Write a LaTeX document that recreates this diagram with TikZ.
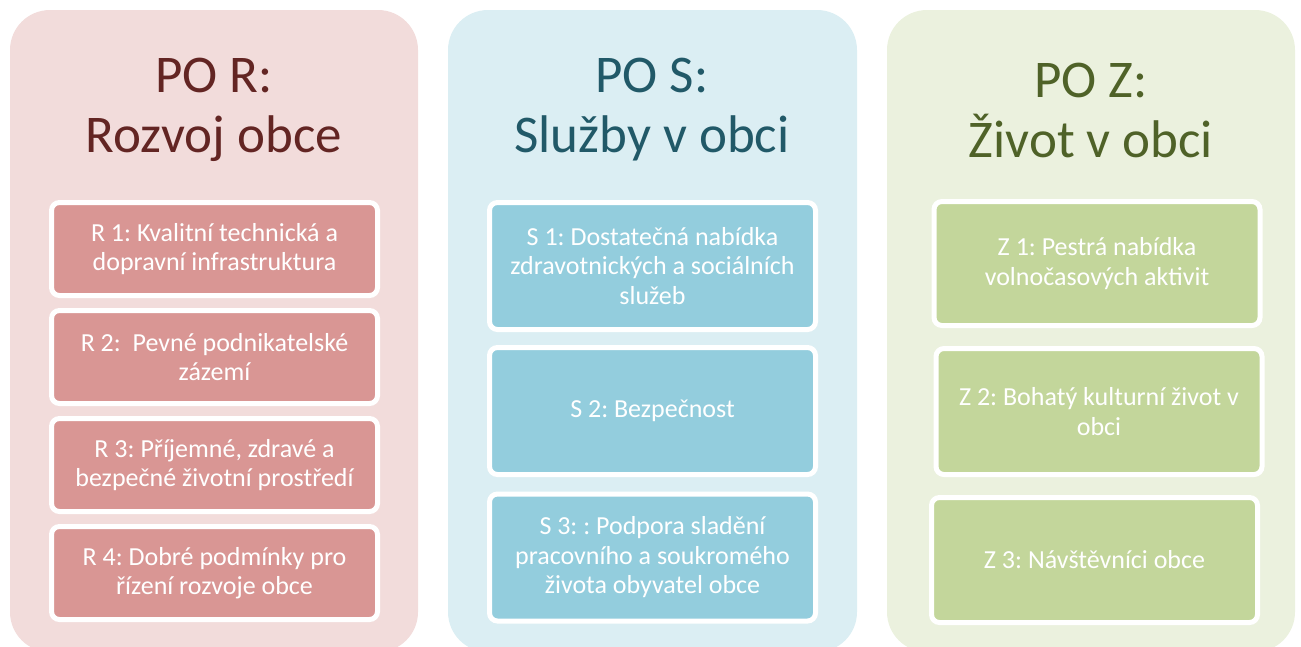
\documentclass[tikz,border=0pt]{standalone}
\usepackage{fontspec}
\setmainfont{Carlito}
\frenchspacing
\definecolor{rbg}{HTML}{F2DCDB}
\definecolor{rbox}{HTML}{D99694}
\definecolor{rtitle}{HTML}{632523}
\definecolor{sbg}{HTML}{DBEEF3}
\definecolor{sbox}{HTML}{93CDDD}
\definecolor{stitle}{HTML}{215968}
\definecolor{zbg}{HTML}{EBF1DE}
\definecolor{zbox}{HTML}{C3D69B}
\definecolor{ztitle}{HTML}{4F6228}
\tikzset{
  panel/.style={rounded corners=40pt},
  title/.style={align=center, inner sep=0pt, font=\fontsize{53}{60}\selectfont},
  goal/.style={draw=white, line width=5pt, rounded corners=8pt, align=center,
    text=white, font=\fontsize{26}{29.5}\selectfont, minimum width=326pt}
}
\begin{document}
\begin{tikzpicture}[x=1pt, y=-1pt]
    \useasboundingbox (0, 0) rectangle (1301, 646);

    % Background panels
    \fill[panel, rbg] (10, 10) rectangle (418, 652);
    \fill[panel, sbg] (448, 10) rectangle (857, 652);
    \fill[panel, zbg] (887, 10) rectangle (1295, 652);

    % Titles of the priority areas
    \node[title, text=rtitle] (titleR) at (214, 110) {PO R:\\Rozvoj obce};
    \node[title, text=stitle] (titleS) at (652, 110) {PO S:\\Služby v obci};
    \node[title, text=ztitle] (titleZ) at (1091, 110) {PO Z:\\Život v obci};

    % Goals R
    \node[goal, fill=rbox, minimum height=93pt] (R1) at (214.5, 249) {R 1: Kvalitní technická a\\dopravní infrastruktura};
    \node[goal, fill=rbox, minimum height=93pt] (R2) at (214.5, 357) {R 2:\ \ Pevné podnikatelské\\zázemí};
    \node[goal, fill=rbox, minimum height=93pt] (R3) at (214.5, 465) {R 3: Příjemné, zdravé a\\bezpečné životní prostředí};
    \node[goal, fill=rbox, minimum height=93pt] (R4) at (214.5, 573) {R 4: Dobré podmínky pro\\řízení rozvoje obce};

    % Goals S
    \node[goal, fill=sbox, minimum height=127pt] (S1) at (652.5, 266) {S 1: Dostatečná nabídka\\zdravotnických a sociálních\\služeb};
    \node[goal, fill=sbox, minimum height=127pt] (S2) at (652.5, 411) {S 2: Bezpečnost};
    \node[goal, fill=sbox, minimum height=127pt] (S3) at (652.5, 557.5) {S 3: : Podpora sladění\\pracovního a soukromého\\života obyvatel obce};

    % Goals Z
    \node[goal, fill=zbox, minimum height=124pt] (Z1) at (1097, 263.5) {Z 1: Pestrá nabídka\\volnočasových aktivit};
    \node[goal, fill=zbox, minimum height=126pt] (Z2) at (1099, 411.5) {Z 2: Bohatý kulturní život v\\obci};
    \node[goal, fill=zbox, minimum height=125pt] (Z3) at (1094.5, 560) {Z 3: Návštěvníci obce};

\end{tikzpicture}
\end{document}
